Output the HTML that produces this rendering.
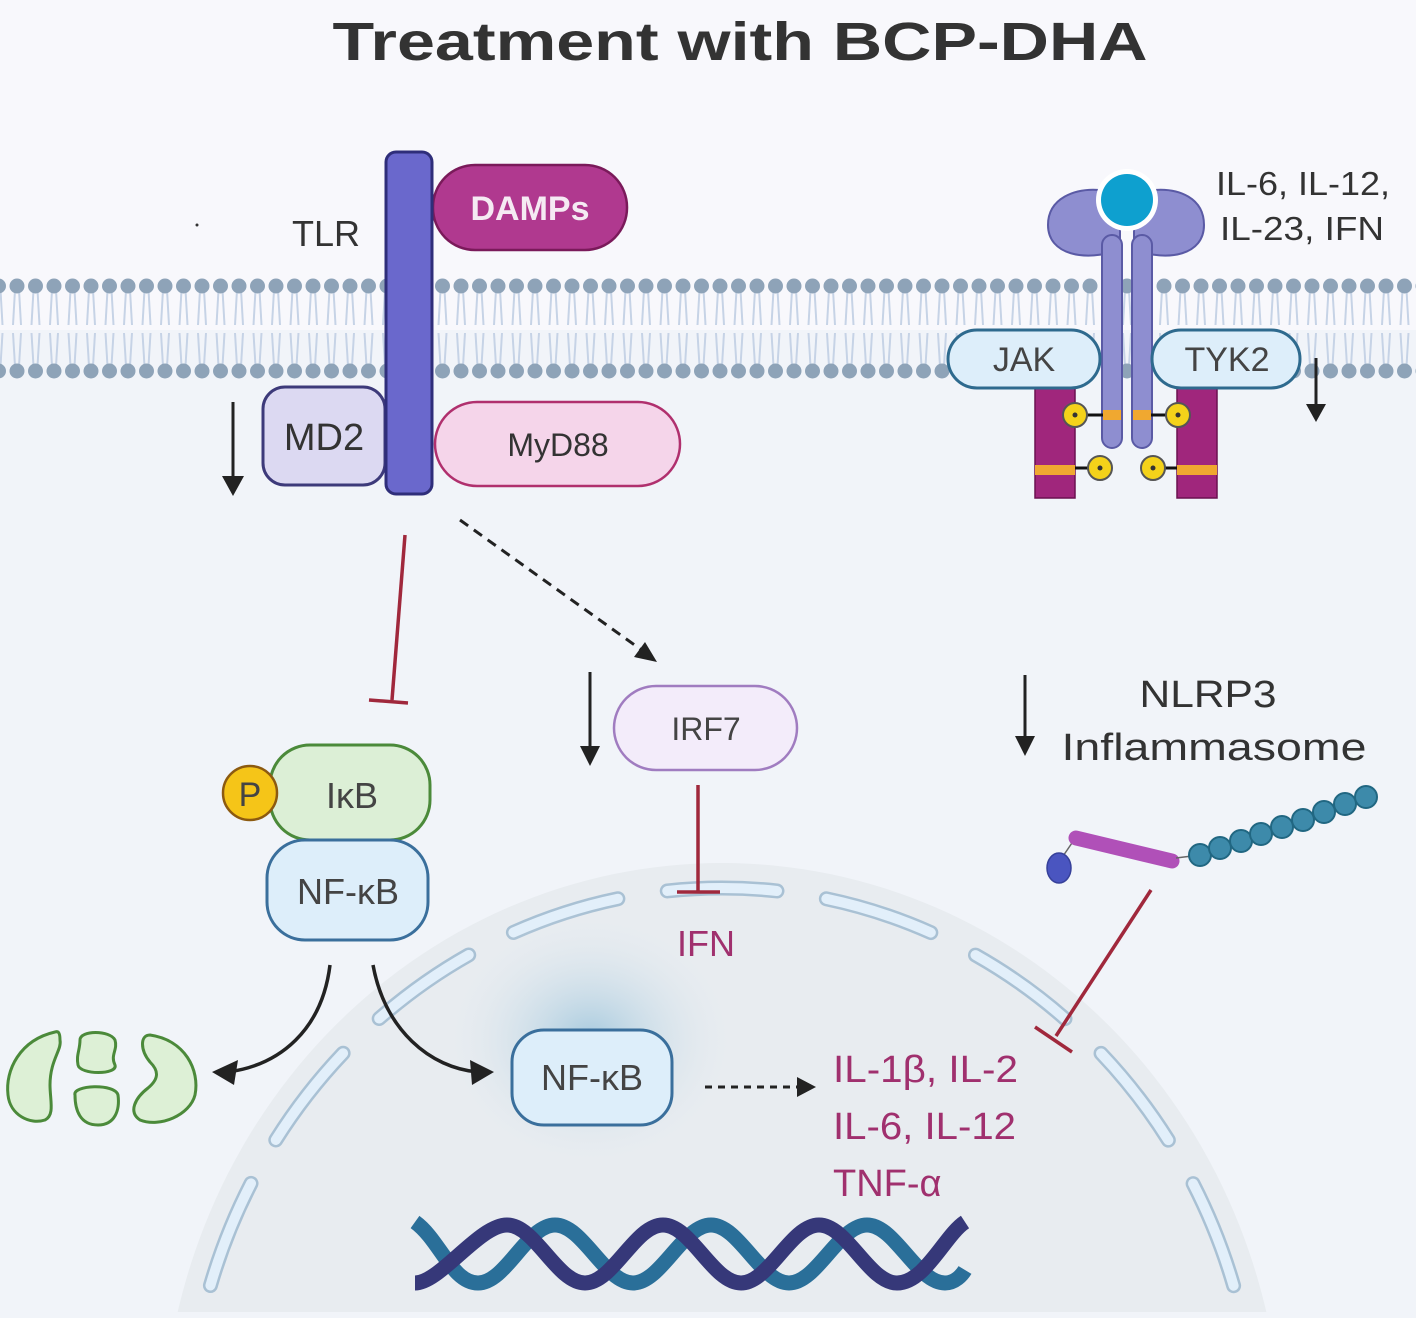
<!DOCTYPE html>
<html><head><meta charset="utf-8"><style>
html,body{margin:0;padding:0;}
body{width:1416px;height:1318px;overflow:hidden;background:#f1f4f9;}
svg{display:block;}
svg text{font-family:"Liberation Sans",sans-serif;}
</style></head><body>
<svg width="1416" height="1318" viewBox="0 0 1416 1318" xmlns="http://www.w3.org/2000/svg">
<defs>
<pattern id="lipT" x="8" y="0" width="18.5" height="1318" patternUnits="userSpaceOnUse">
<line x1="7" y1="290" x2="5" y2="325" stroke="#c6d3e6" stroke-width="2"/>
<line x1="11" y1="290" x2="13" y2="325" stroke="#c6d3e6" stroke-width="2"/>
<line x1="7" y1="366" x2="5" y2="333" stroke="#c6d3e6" stroke-width="2"/>
<line x1="11" y1="366" x2="13" y2="333" stroke="#c6d3e6" stroke-width="2"/>
<circle cx="9" cy="286" r="7.5" fill="#8ea3b8"/>
<circle cx="9" cy="371" r="7.5" fill="#8ea3b8"/>
</pattern>
<radialGradient id="glow" cx="0.5" cy="0.5" r="0.5">
<stop offset="0" stop-color="#9fc6dc" stop-opacity="0.9"/>
<stop offset="1" stop-color="#e9edf1" stop-opacity="0"/>
</radialGradient>
</defs>
<rect x="0" y="0" width="1416" height="330" fill="#f8f8fc"/>
<rect x="0" y="330" width="1416" height="988" fill="#f1f4f9"/>
<!-- nucleus -->
<ellipse cx="722" cy="1450" rx="560" ry="587" fill="#e8ecf0"/>
<ellipse cx="722" cy="1450" rx="535" ry="562" fill="none" stroke="#a9c1d4" stroke-width="15" stroke-dasharray="110 50" stroke-dashoffset="30" stroke-linecap="round"/>
<ellipse cx="722" cy="1450" rx="535" ry="562" fill="none" stroke="#e2effa" stroke-width="10" stroke-dasharray="110 50" stroke-dashoffset="30" stroke-linecap="round"/>
<rect x="0" y="1312" width="1416" height="6" fill="#f1f4f9"/>
<ellipse cx="590" cy="1040" rx="150" ry="130" fill="url(#glow)"/>
<!-- membrane -->
<rect x="0" y="270" width="1416" height="110" fill="url(#lipT)"/>

<text x="740" y="60" font-size="54" font-weight="bold" fill="#333" text-anchor="middle" textLength="815" lengthAdjust="spacingAndGlyphs">Treatment with BCP-DHA</text>
<circle cx="197" cy="225" r="1.5" fill="#333"/>
<text x="292" y="246" font-size="36" fill="#333">TLR</text>

<!-- TLR complex -->
<rect x="263" y="387" width="122" height="98" rx="22" fill="#dcd9f2" stroke="#3d3a7a" stroke-width="3"/>
<text x="324" y="450" font-size="38" fill="#333" text-anchor="middle">MD2</text>
<rect x="435" y="402" width="245" height="84" rx="42" fill="#f5d5ea" stroke="#b0306e" stroke-width="2.5"/>
<text x="558" y="456" font-size="32" fill="#333" text-anchor="middle">MyD88</text>
<rect x="433" y="165" width="194" height="85" rx="42" fill="#b0398f" stroke="#7a1a5a" stroke-width="2.5"/>
<text x="530" y="220" font-size="34" font-weight="bold" fill="#f5eaf3" text-anchor="middle">DAMPs</text>
<rect x="386" y="152" width="46" height="342" rx="10" fill="#6a68cc" stroke="#2f2e7a" stroke-width="3"/>
<line x1="233" y1="402" x2="233" y2="480" stroke="#222" stroke-width="3"/>
<polygon points="222,476 244,476 233,496" fill="#222"/>

<!-- cytokine receptor -->
<path d="M1120,250 C1085,262 1048,255 1048,225 C1048,198 1075,188 1100,190 L1120,215 Z" fill="#8e8ed0" stroke="#5a5aa5" stroke-width="2"/>
<path d="M1134,250 C1169,262 1204,255 1204,225 C1204,198 1179,188 1154,190 L1134,215 Z" fill="#8e8ed0" stroke="#5a5aa5" stroke-width="2"/>
<rect x="1102" y="235" width="20" height="213" rx="10" fill="#8e8ed0" stroke="#5a5aa5" stroke-width="2"/>
<rect x="1132" y="235" width="20" height="213" rx="10" fill="#8e8ed0" stroke="#5a5aa5" stroke-width="2"/>
<circle cx="1127" cy="200" r="31" fill="#fff"/>
<circle cx="1127" cy="200" r="26" fill="#0ea0cf"/>
<rect x="1035" y="388" width="40" height="110" fill="#a0267c" stroke="#6a1050" stroke-width="1.5"/>
<rect x="1177" y="388" width="40" height="110" fill="#a0267c" stroke="#6a1050" stroke-width="1.5"/>
<rect x="1035" y="465" width="40" height="10" fill="#f0a830"/>
<rect x="1177" y="465" width="40" height="10" fill="#f0a830"/>
<rect x="1103" y="410" width="18" height="10" fill="#f0a830"/>
<rect x="1133" y="410" width="18" height="10" fill="#f0a830"/>
<line x1="1075" y1="415" x2="1103" y2="415" stroke="#111" stroke-width="3"/>
<line x1="1151" y1="415" x2="1178" y2="415" stroke="#111" stroke-width="3"/>
<line x1="1075" y1="468" x2="1100" y2="468" stroke="#111" stroke-width="3"/>
<line x1="1153" y1="468" x2="1177" y2="468" stroke="#111" stroke-width="3"/>
<g fill="#f4d21a" stroke="#555" stroke-width="2">
<circle cx="1075" cy="415" r="12"/><circle cx="1178" cy="415" r="12"/>
<circle cx="1100" cy="468" r="12"/><circle cx="1153" cy="468" r="12"/>
</g>
<g fill="#333"><circle cx="1075" cy="415" r="2.5"/><circle cx="1178" cy="415" r="2.5"/><circle cx="1100" cy="468" r="2.5"/><circle cx="1153" cy="468" r="2.5"/></g>
<rect x="948" y="330" width="152" height="58" rx="29" fill="#ddeefa" stroke="#2e6a8e" stroke-width="3"/>
<text x="1024" y="371" font-size="34" fill="#444" text-anchor="middle">JAK</text>
<rect x="1152" y="330" width="148" height="58" rx="29" fill="#ddeefa" stroke="#2e6a8e" stroke-width="3"/>
<text x="1227" y="371" font-size="34" fill="#444" text-anchor="middle">TYK2</text>
<text x="1216" y="195" font-size="33" fill="#333" textLength="174" lengthAdjust="spacingAndGlyphs">IL-6, IL-12,</text>
<text x="1220" y="240" font-size="33" fill="#333" textLength="164" lengthAdjust="spacingAndGlyphs">IL-23, IFN</text>
<line x1="1316" y1="358" x2="1316" y2="408" stroke="#222" stroke-width="3"/>
<polygon points="1306,404 1326,404 1316,422" fill="#222"/>

<!-- TLR inhibition -->
<line x1="405" y1="535" x2="392" y2="700" stroke="#a0283c" stroke-width="3.5"/>
<line x1="369" y1="700" x2="408" y2="703" stroke="#a0283c" stroke-width="3.5"/>
<line x1="460" y1="520" x2="643" y2="651" stroke="#222" stroke-width="3" stroke-dasharray="10 7"/>
<polygon points="657,662 634,657 645,642" fill="#222"/>
<line x1="590" y1="672" x2="590" y2="750" stroke="#222" stroke-width="3"/>
<polygon points="580,746 600,746 590,766" fill="#222"/>
<rect x="614" y="686" width="183" height="84" rx="42" fill="#f3ecfa" stroke="#a07cc0" stroke-width="2.5"/>
<text x="706" y="740" font-size="32" fill="#444" text-anchor="middle">IRF7</text>
<line x1="698" y1="785" x2="698" y2="892" stroke="#a0283c" stroke-width="3.5"/>
<line x1="677" y1="892" x2="720" y2="892" stroke="#a0283c" stroke-width="3.5"/>
<text x="706" y="956" font-size="36" fill="#a0306e" text-anchor="middle">IFN</text>

<!-- IkB / NF-kB -->
<rect x="270" y="745" width="160" height="95" rx="40" fill="#dcefd6" stroke="#4b8a3a" stroke-width="3"/>
<text x="352" y="808" font-size="36" fill="#444" text-anchor="middle">IκB</text>
<rect x="267" y="840" width="161" height="100" rx="38" fill="#ddeefa" stroke="#3a6f9c" stroke-width="3"/>
<text x="348" y="904" font-size="36" fill="#444" text-anchor="middle">NF-κB</text>
<circle cx="250" cy="793" r="27" fill="#f5c518" stroke="#8c5a10" stroke-width="2.5"/>
<text x="250" y="806" font-size="34" fill="#444" text-anchor="middle">P</text>
<path d="M330,965 C322,1030 280,1065 228,1072" fill="none" stroke="#222" stroke-width="3.5"/>
<polygon points="212,1072 238,1060 234,1085" fill="#222"/>
<path d="M373,965 C385,1030 430,1068 478,1072" fill="none" stroke="#222" stroke-width="3.5"/>
<polygon points="494,1072 470,1060 472,1085" fill="#222"/>
<g fill="#ddf0d6" stroke="#4b8a3a" stroke-width="3">
<path d="M55,1032 C20,1040 5,1070 8,1095 C10,1115 30,1125 45,1120 C55,1115 50,1100 50,1085 C50,1060 62,1050 60,1040 C60,1032 58,1031 55,1032 Z"/>
<path d="M80,1040 C80,1030 110,1030 115,1040 C118,1050 110,1055 115,1065 C118,1075 80,1075 78,1065 C76,1055 80,1050 80,1040 Z"/>
<path d="M75,1095 C72,1085 115,1083 118,1095 C120,1110 115,1125 98,1125 C80,1125 75,1110 75,1095 Z"/>
<path d="M150,1035 C185,1040 200,1070 195,1095 C190,1115 160,1128 140,1120 C128,1112 135,1098 148,1088 C160,1078 158,1070 150,1062 C140,1050 140,1035 150,1035 Z"/>
</g>

<rect x="512" y="1030" width="160" height="95" rx="32" fill="#ddeefa" stroke="#3a6f9c" stroke-width="3"/>
<text x="592" y="1090" font-size="36" fill="#444" text-anchor="middle">NF-κB</text>
<line x1="705" y1="1087" x2="800" y2="1087" stroke="#222" stroke-width="3" stroke-dasharray="7 6"/>
<polygon points="816,1087 797,1077 797,1097" fill="#222"/>
<g font-size="38" fill="#a0306e">
<text x="833" y="1082" textLength="185" lengthAdjust="spacingAndGlyphs">IL-1β, IL-2</text>
<text x="833" y="1139" textLength="183" lengthAdjust="spacingAndGlyphs">IL-6, IL-12</text>
<text x="833" y="1196">TNF-α</text>
</g>

<path d="M415,1222 C440,1240 452,1283 478,1283 C506,1283 527,1225 555,1225 C583,1225 605,1283 633,1283 C661,1283 683,1225 711,1225 C739,1225 761,1283 789,1283 C817,1283 839,1225 867,1225 C895,1225 917,1283 945,1283 C955,1283 962,1275 965,1270" fill="none" stroke="#2a6f99" stroke-width="15"/>
<path d="M415,1283 C440,1283 479,1225 507,1225 C535,1225 557,1283 585,1283 C613,1283 635,1225 663,1225 C691,1225 713,1283 741,1283 C769,1283 791,1225 819,1225 C847,1225 869,1283 897,1283 C925,1283 945,1235 965,1222" fill="none" stroke="#363879" stroke-width="15"/>

<line x1="1025" y1="675" x2="1025" y2="740" stroke="#222" stroke-width="3"/>
<polygon points="1015,736 1035,736 1025,756" fill="#222"/>
<text x="1208" y="707" font-size="38" fill="#333" text-anchor="middle" textLength="137" lengthAdjust="spacingAndGlyphs">NLRP3</text>
<text x="1214" y="760" font-size="38" fill="#333" text-anchor="middle" textLength="305" lengthAdjust="spacingAndGlyphs">Inflammasome</text>
<line x1="1059" y1="862" x2="1074" y2="840" stroke="#666" stroke-width="1.5"/>
<ellipse cx="1059" cy="868" rx="12" ry="15" fill="#4a55c0" stroke="#36409a" stroke-width="1.5"/>
<line x1="1076" y1="838" x2="1172" y2="861" stroke="#b050b8" stroke-width="15" stroke-linecap="round"/>
<line x1="1176" y1="858" x2="1200" y2="855" stroke="#666" stroke-width="1.5"/>
<g fill="#3d8aaa" stroke="#216782" stroke-width="2">
<circle cx="1200" cy="855" r="11"/><circle cx="1220" cy="848" r="11"/><circle cx="1241" cy="841" r="11"/><circle cx="1261" cy="834" r="11"/><circle cx="1282" cy="827" r="11"/><circle cx="1303" cy="820" r="11"/><circle cx="1324" cy="812" r="11"/><circle cx="1345" cy="804" r="11"/><circle cx="1366" cy="797" r="11"/>
</g>
<line x1="1151" y1="890" x2="1056" y2="1036" stroke="#a0283c" stroke-width="3.5"/>
<line x1="1035" y1="1027" x2="1072" y2="1052" stroke="#a0283c" stroke-width="3.5"/>
</svg>
</body></html>
